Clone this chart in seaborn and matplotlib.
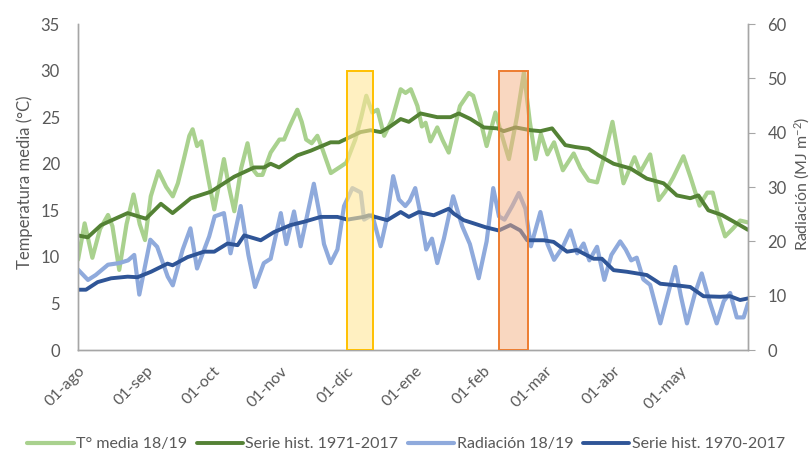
import pandas as pd
import matplotlib
matplotlib.use("Agg")
import matplotlib.pyplot as plt
import seaborn as sns

# ---------------- data ----------------
start = pd.Timestamp("2018-08-01")

t_dias = [0, 3, 6.5, 10, 13.6, 15.6, 18.7, 22, 25.2, 28, 30.4, 33, 36.5, 40, 43, 45.3,
          48, 50.5, 52, 54, 56, 59, 61.8, 66.2, 68.5, 70.9, 74, 76.9, 79, 81.3, 83.7,
          87.4, 91.4, 93.5, 96, 99.5, 101.5, 103.5, 106, 108.6, 111, 114.7, 119.2,
          121.7, 125.8, 128.5, 130.8, 133.5, 135.9, 138.9, 142.6, 146.4, 148.6, 151,
          154, 156, 157.7, 159.9, 163, 165.5, 168.2, 171, 173.3, 177.3, 179.3, 182.4,
          185.4, 189.4, 191.5, 195.5, 199.2, 202.3, 205, 207.6, 210, 213, 216, 220,
          224.9, 228, 231.7, 235.5, 239, 242.5, 247.5, 252.5, 255.1, 259.6, 263.5,
          266.4, 270, 274.7, 278, 282, 285.5, 288, 290.5, 293.6, 297, 300.4, 304]
t_media = [9.7, 13.6, 9.9, 13.0, 14.5, 13.3, 8.6, 13.5, 16.7, 13.5, 11.8, 16.5, 19.2,
           17.5, 16.5, 17.9, 20.5, 23.0, 23.7, 21.9, 22.4, 18.5, 15.1, 20.5, 17.5, 14.9,
           19.5, 22.2, 19.5, 18.8, 18.8, 21.2, 22.6, 22.6, 24.0, 25.8, 24.5, 22.6, 22.2,
           23.0, 21.5, 19.0, 19.7, 20.1, 22.6, 25.0, 27.3, 25.5, 25.8, 23.0, 24.8, 28.0,
           27.6, 28.0, 26.2, 24.0, 24.4, 22.4, 23.9, 22.5, 21.2, 24.0, 26.2, 27.6, 27.3,
           24.8, 21.9, 25.5, 23.7, 20.5, 25.1, 29.8, 24.5, 20.5, 23.2, 21.0, 22.3, 19.3,
           21.1, 19.5, 18.2, 18.0, 21.0, 24.5, 17.9, 20.7, 19.1, 21.0, 16.1, 17.0, 18.5,
           20.8, 18.5, 15.5, 16.9, 16.9, 14.5, 12.2, 13.0, 13.9, 13.7]

th_dias = [0, 4.4, 10.4, 15, 22.5, 30.8, 37.6, 42.9, 51.2, 60.3, 70.8, 79.9, 84.4, 87.4,
           91.2, 99.5, 105.6, 114.6, 118.4, 128.2, 132.8, 137.3, 141, 146.4, 150.1,
           155.4, 163, 169, 172.8, 178.1, 184.1, 190.2, 193.2, 198.5, 205.3, 209.8,
           215.1, 221.1, 225.6, 231.7, 236.2, 243, 250.6, 258.1, 265.7, 271.7, 277.8,
           281.5, 286, 292.1, 298.9, 304]
t_hist = [12.3, 12.1, 13.4, 13.9, 14.7, 14.1, 15.7, 14.7, 16.3, 17.0, 18.6, 19.6, 19.6,
          20.0, 19.6, 20.9, 21.4, 22.3, 22.3, 23.4, 23.6, 23.4, 23.9, 24.8, 24.5, 25.4,
          25.0, 25.0, 25.4, 24.8, 23.9, 23.8, 23.5, 23.9, 23.6, 23.5, 23.8, 22.0, 21.8,
          21.6, 20.9, 20.0, 19.5, 18.4, 17.9, 16.6, 16.3, 16.6, 15.0, 14.5, 13.6, 12.9]

r_dias = [0, 4.5, 8, 13.6, 18.7, 22.7, 25.5, 27.8, 32.8, 35.9, 40.7, 43, 47.5, 51, 54,
          59.5, 62, 66.2, 69.2, 73.8, 77.3, 80.3, 84.3, 87.4, 92, 94.5, 98, 101, 104.6,
          107, 109.6, 111.6, 114.6, 117.7, 120.7, 124.5, 128.3, 129.8, 133.5, 137.3,
          140, 143, 145.6, 148.5, 150.5, 153, 155, 158, 160.6, 163, 166, 170.2, 174.3,
          177.8, 181.8, 185.4, 188.4, 191, 193.5, 197, 200, 203, 205.5, 209.8, 213,
          216, 220, 223.4, 226.5, 229.4, 232, 235.5, 238.8, 242, 246, 248.5, 251,
          253.5, 256.5, 259.6, 264.2, 267.5, 271, 273.5, 276.3, 280, 283, 286.5,
          289.8, 293, 295.9, 298.9, 302, 304]
r_media = [14.8, 12.9, 13.8, 15.7, 16.0, 16.5, 17.5, 10.2, 20.3, 19.0, 13.5, 11.9, 18.5,
           22.4, 15.0, 20.9, 24.6, 25.2, 17.8, 26.5, 17.5, 11.6, 16.0, 16.8, 25.2, 19.5,
           25.5, 19.1, 26.0, 30.6, 25.0, 19.5, 16.0, 18.5, 26.5, 29.8, 29.0, 24.0, 24.9,
           19.1, 24.0, 32.0, 27.7, 26.5, 27.5, 29.8, 25.8, 18.5, 20.5, 16.0, 20.5, 28.3,
           22.8, 19.5, 13.2, 20.0, 29.8, 24.6, 24.0, 26.5, 28.9, 26.0, 19.1, 25.4, 19.5,
           16.6, 19.0, 22.0, 17.8, 19.6, 16.5, 19.0, 12.9, 17.5, 20.0, 18.5, 16.5, 17.0,
           13.0, 12.0, 4.9, 10.0, 15.3, 10.0, 4.9, 10.5, 14.1, 9.0, 4.9, 9.0, 10.5, 6.0,
           6.0, 8.6]

rh_dias = [0, 3.6, 8.9, 15, 22.5, 27, 33.1, 40.6, 42.9, 49.7, 57.2, 61.8, 67.8, 72.4,
           75.4, 82.9, 88.9, 96.5, 102.5, 110.1, 117.7, 122.2, 129.7, 132, 140.3, 146.4,
           150.1, 154.6, 161.4, 168.2, 170.5, 175, 179.6, 184.9, 190.9, 196.2, 200.7,
           203.8, 211.3, 215.8, 221.9, 226.4, 233.9, 237.7, 243, 249.1, 258.1, 264.2,
           271.7, 277.8, 283.8, 291.3, 295.9, 300.4, 304]
r_hist = [11.1, 11.1, 12.5, 13.2, 13.5, 13.4, 14.4, 15.9, 15.6, 17.1, 18.1, 18.1, 19.6,
          19.3, 21.1, 20.2, 21.7, 23.0, 23.6, 24.5, 24.5, 24.0, 24.5, 24.8, 23.9, 25.4,
          24.5, 25.4, 24.8, 26.0, 25.1, 23.9, 23.3, 22.6, 22.0, 23.0, 22.0, 20.2, 20.2,
          19.9, 18.1, 18.4, 16.8, 16.8, 14.7, 14.4, 13.8, 12.2, 11.9, 11.6, 9.9, 9.8,
          9.9, 9.2, 9.5]

labels = ["T° media 18/19", "Serie hist. 1971-2017", "Radiación 18/19", "Serie hist. 1970-2017"]
month_labels = ["01-ago", "01-sep", "01-oct", "01-nov", "01-dic", "01-ene",
                "01-feb", "01-mar", "01-abr", "01-may", ""]
rect_1 = ("2018-12-01", "2018-12-13")
rect_2 = ("2019-02-08", "2019-02-21")
rect_top_temp = 30

# ---------------- styling ----------------
sns.set_style("white")
plt.rcParams["font.family"] = ["Lato", "DejaVu Sans"]
plt.rcParams["mathtext.default"] = "regular"
plt.rcParams["lines.solid_joinstyle"] = "round"

c_tm = "#A9D18E"
c_th = "#548235"
c_rm = "#8FAADC"
c_rh = "#2F5597"
gray_txt = "#595959"
gray_ax = "#A6A6A6"


def to_df(days, vals):
    return pd.DataFrame({"fecha": start + pd.to_timedelta(days, unit="D"), "valor": vals})


fig = plt.figure(figsize=(8.12, 4.57), dpi=100)
ax = fig.add_axes([0.0961, 0.2341, 0.8251, 0.7133])
ax2 = ax.twinx()

lw_light = 3.0
lw_dark = 2.8
sns.lineplot(data=to_df(t_dias, t_media), x="fecha", y="valor", ax=ax, color=c_tm, lw=lw_light, label=labels[0], legend=False)
sns.lineplot(data=to_df(th_dias, t_hist), x="fecha", y="valor", ax=ax, color=c_th, lw=lw_dark, label=labels[1], legend=False)
sns.lineplot(data=to_df(r_dias, r_media), x="fecha", y="valor", ax=ax2, color=c_rm, lw=lw_light, label=labels[2], legend=False)
sns.lineplot(data=to_df(rh_dias, r_hist), x="fecha", y="valor", ax=ax2, color=c_rh, lw=lw_dark, label=labels[3], legend=False)

# highlight boxes (height of 30 °C on the left axis)
frac = rect_top_temp / 35
ax2.axvspan(pd.Timestamp(rect_1[0]), pd.Timestamp(rect_1[1]), ymin=0, ymax=frac,
            facecolor="#FFE699", alpha=0.6, edgecolor="none", zorder=5)
ax2.axvspan(pd.Timestamp(rect_1[0]), pd.Timestamp(rect_1[1]), ymin=0, ymax=frac,
            facecolor="none", edgecolor="#FFC000", lw=1.4, zorder=6)
ax2.axvspan(pd.Timestamp(rect_2[0]), pd.Timestamp(rect_2[1]), ymin=0, ymax=frac,
            facecolor="#F4B183", alpha=0.5, edgecolor="none", zorder=5)
ax2.axvspan(pd.Timestamp(rect_2[0]), pd.Timestamp(rect_2[1]), ymin=0, ymax=frac,
            facecolor="none", edgecolor="#ED7D31", lw=1.4, zorder=6)

ax.set_xlim(pd.Timestamp("2018-08-01"), pd.Timestamp("2019-06-01"))
ax.set_ylim(0, 35)
ax2.set_ylim(0, 60)
ax.set_yticks(range(0, 36, 5))
ax2.set_yticks(range(0, 61, 10))
ticks = pd.date_range("2018-08-01", "2019-06-01", freq="MS")
ax.set_xticks(ticks)
ax.set_xticklabels(month_labels, rotation=45, ha="right", rotation_mode="anchor")

for a in (ax, ax2):
    for s in a.spines.values():
        s.set_color(gray_ax)
        s.set_linewidth(1.0)
    a.spines["top"].set_visible(False)
    a.set_xlabel("")
    a.set_ylabel("")

ax.tick_params(axis="y", length=0, labelsize=12, labelcolor=gray_txt, pad=13)
ax.tick_params(axis="x", length=5, color=gray_ax, direction="out", labelsize=11.5,
               labelcolor=gray_txt, pad=5)
ax2.tick_params(axis="y", length=5, color=gray_ax, direction="out", labelsize=12,
                labelcolor=gray_txt, pad=9)

ax.set_ylabel("Temperatura media (°C)", fontsize=12, color=gray_txt)
ax.yaxis.set_label_coords(-0.067, 0.515)
ax2.set_ylabel("Radiación (MJ m$^{-2}$)", fontsize=11.5, color=gray_txt, rotation=90)
ax2.yaxis.set_label_coords(1.066, 0.51)

handles = ax.get_lines()[:2] + ax2.get_lines()[:2]
fig.legend(handles, labels, loc="center", bbox_to_anchor=(0.5, 0.028), ncol=4,
           frameon=False, fontsize=11.5, handlelength=2.9, handletextpad=0.15,
           columnspacing=0.6, labelcolor=gray_txt)

fig.savefig("out.png", dpi=100)
